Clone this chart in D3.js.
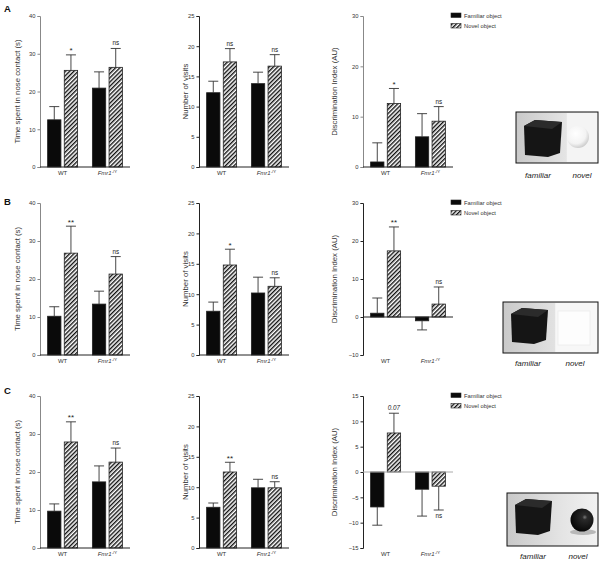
<!DOCTYPE html>
<html>
<head>
<meta charset="utf-8">
<script src="https://cdn.jsdelivr.net/npm/d3@7.9.0/dist/d3.min.js"></script>
<style>
  body { margin: 0; background: #fff; }
  svg { font-family: "Liberation Sans", Arial, sans-serif; }
</style>
</head>
<body>
<div id="chart"></div>
<script>
// ---- data ----
const groups = ["WT", "Fmr1"];
const series = ["Familiar object", "Novel object"];
const panelIds = ["A", "B", "C"];

// time spent in nose contact (s): mean and SEM per row [WT, Fmr1]
const timeFam    = [[12.5, 20.9], [10.2, 13.4], [9.7, 17.4]];
const timeFamErr = [[3.5, 4.3],   [2.5, 3.4],   [1.9, 4.2]];
const timeNov    = [[25.6, 26.4], [26.8, 21.3], [27.9, 22.6]];
const timeNovErr = [[4.1, 5.0],   [7.1, 4.6],   [5.3, 3.7]];
const timeSig    = [["*", "ns"], ["**", "ns"], ["**", "ns"]];

// number of visits
const visitFam    = [[12.3, 13.8], [7.2, 10.2], [6.7, 9.9]];
const visitFamErr = [[1.9, 1.9],   [1.5, 2.6],  [0.7, 1.4]];
const visitNov    = [[17.4, 16.7], [14.8, 11.3], [12.5, 9.9]];
const visitNovErr = [[2.2, 1.9],   [2.6, 1.4],  [1.6, 1.0]];
const visitSig    = [["ns", "ns"], ["*", "ns"], ["**", "ns"]];

// discrimination index (AU)
const diFam    = [[1.0, 6.0], [1.0, -1.0], [-6.9, -3.4]];
const diFamErr = [[3.8, 4.6], [4.0, 2.4],  [3.6, 5.3]];
const diNov    = [[12.6, 9.1], [17.4, 3.4], [7.7, -2.8]];
const diNovErr = [[3.0, 2.9], [6.3, 4.5],  [3.9, 4.7]];
const diSig    = [["*", "ns"], ["**", "ns"], ["0.07", "ns"]];

const timeTicks  = [0, 10, 20, 30, 40];
const visitTicks = [0, 5, 10, 15, 20, 25];
const diTicks    = [[0, 10, 20, 30], [-10, 0, 10, 20, 30], [-15, -10, -5, 0, 5, 10, 15]];

const yLabels = ["Time spent in nose contact (s)", "Number of visits", "Discrimination Index (AU)"];
const objects = [["familiar", "novel"], ["familiar", "novel"], ["familiar", "novel"]];

// ---- layout ----
const width = 600, height = 562;
const rowLayout = [
  { top: 16, bottom: 167, letterY: 12 },
  { top: 203, bottom: 355, letterY: 205 },
  { top: 396, bottom: 548, letterY: 394 }
];
const colAxisX = [40, 199, 363];
const colLabelX = [20, 188, 337];
const plotW = 90;
const photoBoxes = [
  { x: 516, y: 112, w: 82, h: 51, capY: 178, capX: [538, 582] },
  { x: 503, y: 302, w: 95, h: 51, capY: 366, capX: [528, 575] },
  { x: 507, y: 493, w: 91, h: 53, capY: 559, capX: [533, 578] }
];

const svg = d3.select("#chart").append("svg")
  .attr("width", width).attr("height", height)
  .attr("viewBox", `0 0 ${width} ${height}`);

const defs = svg.append("defs");
const pat = defs.append("pattern")
  .attr("id", "hatch")
  .attr("patternUnits", "userSpaceOnUse")
  .attr("width", 3).attr("height", 3)
  .attr("patternTransform", "rotate(45)");
pat.append("rect").attr("width", 3).attr("height", 3).attr("fill", "#fff");
pat.append("rect").attr("width", 1.4).attr("height", 3).attr("fill", "#111");

const bgGrad = defs.append("linearGradient").attr("id", "photoBg").attr("x1", 0).attr("x2", 1);
bgGrad.append("stop").attr("offset", "0%").attr("stop-color", "#c9c9c9");
bgGrad.append("stop").attr("offset", "60%").attr("stop-color", "#e4e4e4");
bgGrad.append("stop").attr("offset", "100%").attr("stop-color", "#f2f2f2");
const whiteBall = defs.append("radialGradient").attr("id", "whiteBall")
  .attr("cx", "40%").attr("cy", "35%").attr("r", "65%");
whiteBall.append("stop").attr("offset", "0%").attr("stop-color", "#ffffff");
whiteBall.append("stop").attr("offset", "70%").attr("stop-color", "#f3f3f3");
whiteBall.append("stop").attr("offset", "100%").attr("stop-color", "#cfcfcf");
const blackBall = defs.append("radialGradient").attr("id", "blackBall")
  .attr("cx", "62%").attr("cy", "38%").attr("r", "60%");
blackBall.append("stop").attr("offset", "0%").attr("stop-color", "#777");
blackBall.append("stop").attr("offset", "18%").attr("stop-color", "#2a2a2a");
blackBall.append("stop").attr("offset", "100%").attr("stop-color", "#0a0a0a");

function drawChart(col, row, opts) {
  const lay = rowLayout[row];
  const ax = colAxisX[col];
  const g = svg.append("g");

  const y = d3.scaleLinear().domain(opts.domain).range([lay.bottom, lay.top]);
  const x = d3.scaleBand().domain(groups).range([ax, ax + plotW])
    .paddingInner(0.33).paddingOuter(0.17);
  const xs = d3.scaleBand().domain(series).range([0, x.bandwidth()]).paddingInner(0.2);

  const data = [];
  groups.forEach((grp, i) => {
    data.push({ grp, s: series[0], v: opts.fam[i], e: opts.famErr[i], sig: null });
    data.push({ grp, s: series[1], v: opts.nov[i], e: opts.novErr[i], sig: opts.sig[i] });
  });

  // y axis
  const yAxis = g.append("g").attr("transform", `translate(${ax},0)`)
    .call(d3.axisLeft(y).tickValues(opts.ticks).tickSize(2.5).tickPadding(2).tickFormat(d3.format("d")));
  yAxis.select(".domain").attr("stroke", opts.axisColor).attr("stroke-width", 1);
  yAxis.selectAll(".tick line").attr("stroke", opts.axisColor);
  yAxis.selectAll(".tick text").attr("font-size", 5.8).attr("fill", "#333");

  // bars
  g.selectAll(".bar").data(data).join("rect")
    .attr("x", d => x(d.grp) + xs(d.s))
    .attr("width", xs.bandwidth())
    .attr("y", d => y(Math.max(0, d.v)))
    .attr("height", d => Math.abs(y(d.v) - y(0)))
    .attr("fill", d => d.s === series[0] ? "#0a0a0a" : "url(#hatch)")
    .attr("stroke", "#222").attr("stroke-width", 0.8);

  // error bars (one-sided, away from zero)
  const capW = xs.bandwidth() * 0.75;
  data.forEach(d => {
    const cx = x(d.grp) + xs(d.s) + xs.bandwidth() / 2;
    const sign = d.v >= 0 ? 1 : -1;
    const y1 = y(d.v), y2 = y(d.v + sign * d.e);
    g.append("line").attr("x1", cx).attr("x2", cx).attr("y1", y1).attr("y2", y2)
      .attr("stroke", "#333").attr("stroke-width", 0.9);
    g.append("line").attr("x1", cx - capW / 2).attr("x2", cx + capW / 2).attr("y1", y2).attr("y2", y2)
      .attr("stroke", "#333").attr("stroke-width", 0.9);
    if (d.sig) {
      const below = sign < 0;
      const star = d.sig.includes("*");
      g.append("text")
        .attr("x", cx)
        .attr("y", below ? y2 + 8 : y2 - (star ? 1.5 : 3))
        .attr("text-anchor", "middle")
        .attr("font-size", star ? 8 : 6.3)
        .attr("font-style", d.sig === "0.07" ? "italic" : "normal")
        .attr("fill", "#222")
        .text(d.sig);
    }
  });

  // x baseline at zero
  g.append("line").attr("x1", ax).attr("x2", ax + plotW)
    .attr("y1", y(0)).attr("y2", y(0))
    .attr("stroke", opts.zeroColor).attr("stroke-width", 1);

  // category labels at bottom
  groups.forEach(grp => {
    const t = g.append("text")
      .attr("x", x(grp) + x.bandwidth() / 2)
      .attr("y", lay.bottom + 8)
      .attr("text-anchor", "middle")
      .attr("font-size", 6).attr("fill", "#333");
    if (grp === "WT") t.text("WT");
    else {
      t.append("tspan").attr("font-style", "italic").text("Fmr1");
      t.append("tspan").attr("font-size", 4.2).attr("dy", -2.5).text("-/Y");
    }
  });

  // y label
  g.append("text")
    .attr("transform", `translate(${colLabelX[col]},${(lay.top + lay.bottom) / 2}) rotate(-90)`)
    .attr("text-anchor", "middle")
    .attr("font-size", 7.8).attr("fill", "#333")
    .text(yLabels[col]);
}

function drawLegend(row) {
  const lay = rowLayout[row];
  const lx = 451, ly = lay.top - 3;
  series.forEach((s, i) => {
    svg.append("rect").attr("x", lx).attr("y", ly + i * 10.5)
      .attr("width", 10).attr("height", 4.5)
      .attr("fill", i === 0 ? "#0a0a0a" : "url(#hatch)")
      .attr("stroke", "#222").attr("stroke-width", 0.6);
    svg.append("text").attr("x", lx + 13).attr("y", ly + i * 10.5 + 4.5)
      .attr("font-size", 5.8).attr("fill", "#333").text(s);
  });
}

function drawPhoto(row) {
  const p = photoBoxes[row];
  const g = svg.append("g").attr("transform", `translate(${p.x},${p.y})`);
  g.append("rect").attr("width", p.w).attr("height", p.h).attr("fill", "url(#photoBg)")
    .attr("stroke", "#111").attr("stroke-width", 1);
  // familiar object: black cube
  const cx0 = 5, cw = row === 0 ? 41 : 40;
  const top = row === 0 ? 8 : 6, ch = row === 0 ? 37 : 36;
  g.append("path")
    .attr("d", `M${cx0 + 3},${top + 6} L${cx0 + 14},${top} L${cx0 + cw},${top + 2} L${cx0 + cw - 2},${top + ch - 4} L${cx0 + cw - 14},${top + ch} L${cx0 + 4},${top + ch - 2} Z`)
    .attr("fill", "#151515");
  g.append("path")
    .attr("d", `M${cx0 + 3},${top + 6} L${cx0 + 14},${top} L${cx0 + cw},${top + 2} L${cx0 + cw - 10},${top + 9} Z`)
    .attr("fill", "#2b2b2b");
  // novel object
  if (row === 0) {
    g.append("rect").attr("x", p.w * 0.62).attr("y", 1).attr("width", p.w * 0.38 - 1).attr("height", p.h - 2)
      .attr("fill", "#f4f4f4");
    g.append("circle").attr("cx", 62).attr("cy", 25).attr("r", 11).attr("fill", "url(#whiteBall)");
  } else if (row === 1) {
    g.append("rect").attr("x", p.w * 0.55).attr("y", 1).attr("width", p.w * 0.45 - 1).attr("height", p.h - 2)
      .attr("fill", "#f7f7f7");
    g.append("rect").attr("x", 55).attr("y", 9).attr("width", 32).attr("height", 34)
      .attr("fill", "#fdfdfd").attr("stroke", "#e8e8e8").attr("stroke-width", 0.6);
  } else {
    g.append("ellipse").attr("cx", 76).attr("cy", 39).attr("rx", 13).attr("ry", 3).attr("fill", "#b8b8b8");
    g.append("circle").attr("cx", 75).attr("cy", 27).attr("r", 11.5).attr("fill", "url(#blackBall)");
  }
  objects[row].forEach((o, i) => {
    svg.append("text").attr("x", p.capX[i]).attr("y", p.capY)
      .attr("text-anchor", "middle").attr("font-size", 8).attr("font-style", "italic")
      .attr("fill", "#222").text(o);
  });
}

panelIds.forEach((id, r) => {
  svg.append("text").attr("x", 4).attr("y", rowLayout[r].letterY)
    .attr("font-size", 9.5).attr("font-weight", "bold").attr("fill", "#111").text(id);

  drawChart(0, r, { domain: [0, 40], ticks: timeTicks, fam: timeFam[r], famErr: timeFamErr[r],
    nov: timeNov[r], novErr: timeNovErr[r], sig: timeSig[r], axisColor: "#888", zeroColor: "#222" });
  drawChart(1, r, { domain: [0, 25], ticks: visitTicks, fam: visitFam[r], famErr: visitFamErr[r],
    nov: visitNov[r], novErr: visitNovErr[r], sig: visitSig[r], axisColor: "#222", zeroColor: "#222" });
  const diDom = d3.extent(diTicks[r]);
  drawChart(2, r, { domain: diDom, ticks: diTicks[r], fam: diFam[r], famErr: diFamErr[r],
    nov: diNov[r], novErr: diNovErr[r], sig: diSig[r],
    axisColor: r === 0 ? "#888" : "#222", zeroColor: r === 2 ? "#aaa" : "#222" });
  drawLegend(r);
  drawPhoto(r);
});
</script>
</body>
</html>
